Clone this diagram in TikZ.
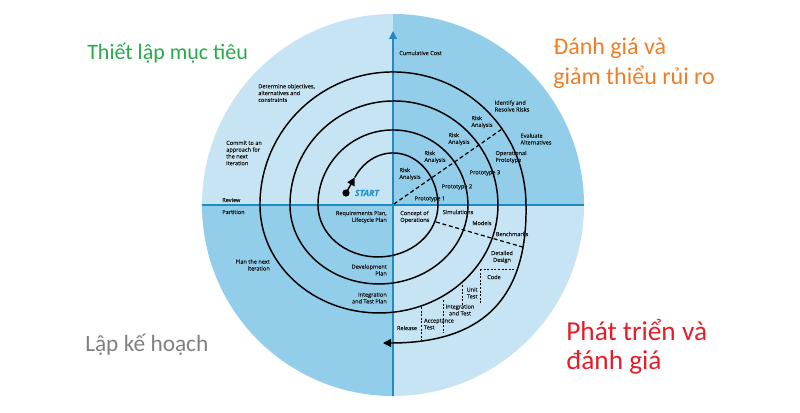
\documentclass[tikz,border=0pt]{standalone}
\usepackage{fontspec}
\setmainfont{Carlito}
\newfontfamily\lab{Open Sans}[FakeBold=0.35]
\usetikzlibrary{arrows.meta}
\definecolor{qlight}{RGB}{198,228,243}
\definecolor{qdark}{RGB}{146,205,233}
\definecolor{axisblue}{RGB}{30,140,195}
\definecolor{tgreen}{RGB}{40,170,75}
\definecolor{torange}{RGB}{240,125,35}
\definecolor{tgray}{RGB}{128,128,128}
\definecolor{tred}{RGB}{228,30,40}
\definecolor{startblue}{RGB}{40,150,200}
\begin{document}
\begin{tikzpicture}[x=0.75pt,y=-0.75pt,
  lab/.style={font=\lab\fontsize{4.2}{5.1}\selectfont, align=left, inner sep=0pt, text=black!90},
  big/.style={inner sep=0pt, anchor=west, align=left},
  spiral/.style={line width=1.1pt, black},
  riskline/.style={line width=0.9pt, dash pattern=on 3pt off 2pt},
  stair/.style={line width=0.5pt, dash pattern=on 1.5pt off 1.2pt}]
\useasboundingbox (0,0) rectangle (800,413);
\coordinate (O) at (393,205);
% quadrants
\fill[qlight] (O) -- (202,205) arc[start angle=180,end angle=270,radius=191] -- cycle;
\fill[qdark] (O) -- (393,14) arc[start angle=270,end angle=360,radius=191] -- cycle;
\fill[qlight] (O) -- (584,205) arc[start angle=0,end angle=90,radius=191] -- cycle;
\fill[qdark] (O) -- (393,396) arc[start angle=90,end angle=180,radius=191] -- cycle;
% axes
\coordinate (axL) at (202,205);
\coordinate (axR) at (584,205);
\coordinate (axB) at (393,396);
\coordinate (axT) at (393,31);
\draw[axisblue, line width=0.8pt] (axL) -- (axR);
\draw[axisblue, line width=0.8pt, -{Triangle[length=6pt,width=6pt]}] (axB) -- (axT);
% spiral
\coordinate (S) at (354.8,177.4);
\coordinate (dot) at (346,193);
\coordinate (E4) at (526,205);
\coordinate (end) at (383,343);
\fill (dot) circle[radius=3.6];
\draw[line width=1.1pt, -{Triangle[length=6pt,width=6pt]}] (dot) -- (S);
\draw[spiral] (S)
  arc[start angle=212,end angle=360,x radius=45,y radius=52]
  arc[start angle=0,end angle=180,x radius=60,y radius=52]
  arc[start angle=180,end angle=360,radius=75]
  arc[start angle=0,end angle=180,x radius=89,y radius=79]
  arc[start angle=180,end angle=360,radius=104]
  arc[start angle=0,end angle=180,x radius=119,y radius=108]
  arc[start angle=180,end angle=360,radius=133];
\draw[spiral, -{Triangle[length=6pt,width=6pt]}] (E4) .. controls (528,310) and (470,343) .. (end);
% dashed lines
\coordinate (d1a) at (394,204);
\coordinate (d1b) at (502,129);
\draw[riskline] (d1a) -- (d1b);
\coordinate (d2a) at (436,222);
\coordinate (d2b) at (522.5,247);
\draw[riskline] (d2a) -- (d2b);
\draw[stair] (480,269) -- (516,269);
\draw[stair] (480,269) -- (480,303);
\draw[stair] (462,285) -- (462,305);
\draw[stair] (443,300) -- (443,333);
\draw[stair] (421,307) -- (421,340);
% labels
\node[lab, anchor=west] (cc) at (399,53) {Cumulative Cost};
\node[lab, anchor=west] (det) at (258,93) {Determine objectives,\\alternatives and\\constraints};
\node[lab, anchor=west] (com) at (226,153) {Commit to an\\approach for\\the next\\iteration};
\node[lab, anchor=west] (rev) at (222,200) {Review};
\node[lab, anchor=west] (par) at (222,212) {Partition};
\node[lab, anchor=east, align=right] (pni) at (270,265) {Plan the next\\iteration};
\node[lab, anchor=east, align=right] (rp) at (387,217) {Requirements Plan,\\Lifecycle Plan};
\node[lab, anchor=east, align=right] (dp) at (387,270) {Development\\Plan};
\node[lab, anchor=east, align=right] (itp) at (387,298) {Integration\\and Test Plan};
\node[lab, anchor=west] (coo) at (400,217) {Concept of\\Operations};
\node[lab] (sim) at (458,212) {Simulations};
\node[lab] (mod) at (482,223) {Models};
\node[lab] (ben) at (512,234) {Benchmarks};
\node[lab, align=center] (dd) at (502,257) {Detailed\\Design};
\node[lab] (code) at (494,277) {Code};
\node[lab, align=right] (ut) at (472,293) {Unit\\Test};
\node[lab, align=center] (it) at (460,310) {Integration\\and Test};
\node[lab] (at) at (439,324) {Acceptance\\Test};
\node[lab] (rel) at (407,328) {Release};
\node[lab] (p1) at (430,199) {Prototype 1};
\node[lab] (p2) at (457,187) {Prototype 2};
\node[lab] (p3) at (485,173) {Prototype 3};
\node[lab] (op) at (511,157) {Operational\\Prototype};
\node[lab] (ra1) at (410,174) {Risk\\Analysis};
\node[lab] (ra2) at (435,157) {Risk\\Analysis};
\node[lab] (ra3) at (459,139) {Risk\\Analysis};
\node[lab] (ra4) at (482,122) {Risk\\Analysis};
\node[lab] (irr) at (512,106) {Identify and\\Resolve Risks};
\node[lab] (ea) at (536,139) {Evaluate\\Alternatives};
\node[font=\lab\bfseries\itshape\fontsize{6.5}{7}\selectfont, text=startblue, inner sep=0pt] (start) at (367,193) {START};
% quadrant titles
\node[big, text=tgreen, font=\fontsize{16.5}{20}\selectfont] (q1) at (87,53) {Thiết lập mục tiêu};
\node[big, text=torange, font=\fontsize{18}{22.5}\selectfont] (q2) at (553,63) {Đánh giá và\\giảm thiểu rủi ro};
\node[big, text=tgray, font=\fontsize{17.5}{21}\selectfont] (q3) at (85,345) {Lập kế hoạch};
\node[big, text=tred, font=\fontsize{20.5}{22}\selectfont] (q4) at (566,347) {Phát triển và\\đánh giá};
\end{tikzpicture}
\end{document}
